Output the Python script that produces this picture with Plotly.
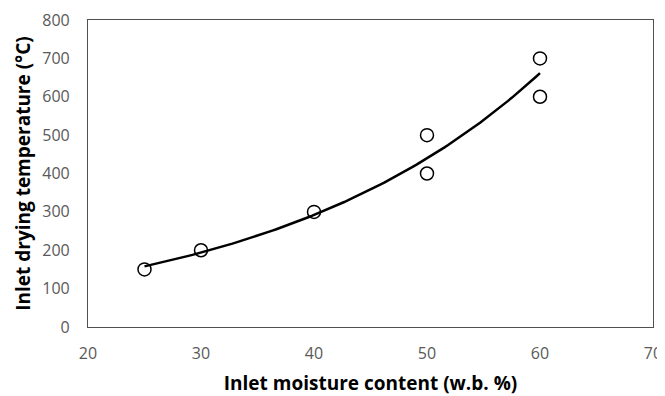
import numpy as np
import plotly.graph_objects as go

moisture = [25, 30, 40, 50, 50, 60, 60]
temperature = [150, 200, 300, 500, 400, 700, 600]
x_ticks = [20, 30, 40, 50, 60, 70]
y_ticks = [0, 100, 200, 300, 400, 500, 600, 700, 800]

# Exponential trendline (least squares on ln y, as in Excel)
b, ln_a = np.polyfit(moisture, np.log(temperature), 1)
xt = np.linspace(min(moisture), max(moisture), 100)
yt = np.exp(ln_a) * np.exp(b * xt)

fig = go.Figure()
fig.add_trace(go.Scatter(x=xt, y=yt, mode="lines",
                         line=dict(color="black", width=2.5), hoverinfo="skip"))
fig.add_trace(go.Scatter(x=moisture, y=temperature, mode="markers",
                         marker=dict(symbol="circle-open", size=13,
                                     color="black", line=dict(width=1.5, color="black"))))

font_family = "Open Sans, Liberation Sans, sans-serif"
# page body has an 8px default margin, so the figure is sized to fit the window
fig.update_layout(
    width=657, height=388,
    margin=dict(l=80, r=12, t=12, b=69),
    plot_bgcolor="white", paper_bgcolor="white",
    showlegend=False,
    font=dict(family=font_family, size=16, color="#595959"),
)
fig.update_xaxes(range=[20, 70], tickvals=x_ticks, showgrid=False, zeroline=False,
                 showline=True, mirror=True, linecolor="#505050", linewidth=1.2,
                 ticks="", automargin=False, ticklabelstandoff=12,
                 title=dict(text="<b>Inlet moisture content (w.b. %)</b>",
                            font=dict(size=19, color="black"), standoff=15))
fig.update_yaxes(range=[0, 800], tickvals=y_ticks, showgrid=False, zeroline=False,
                 showline=True, mirror=True, linecolor="#505050", linewidth=1.2,
                 ticks="", automargin=False, ticklabelstandoff=14,
                 title=dict(text="<b>Inlet drying temperature (°C)</b>",
                            font=dict(size=19, color="black"), standoff=6))

fig.write_html("out.html")
